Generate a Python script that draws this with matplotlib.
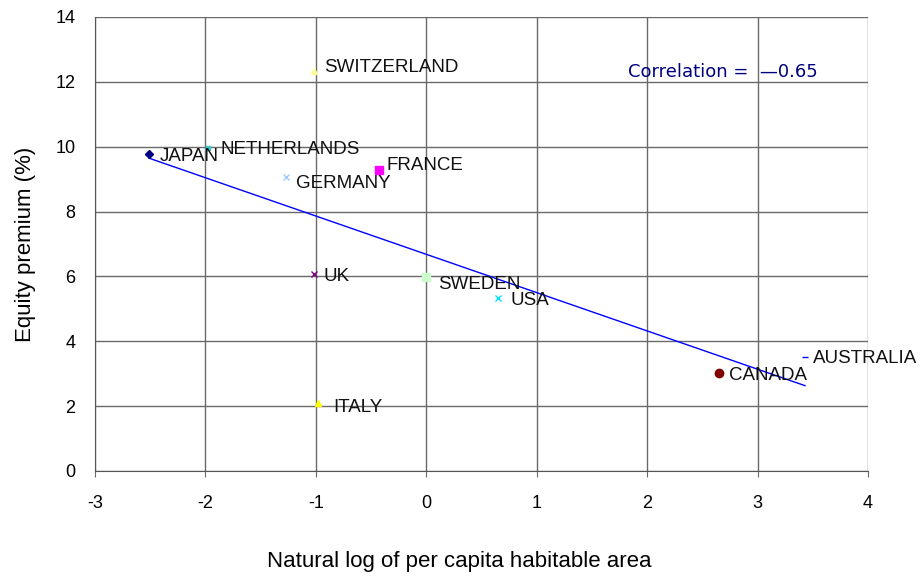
import numpy as np
import matplotlib
matplotlib.use('Agg')
import matplotlib.pyplot as plt

plt.rcParams['font.family'] = ['Liberation Sans', 'DejaVu Sans']
plt.rcParams['axes.unicode_minus'] = False

countries = ['JAPAN', 'NETHERLANDS', 'GERMANY', 'FRANCE', 'SWITZERLAND', 'UK',
             'SWEDEN', 'USA', 'CANADA', 'AUSTRALIA', 'ITALY']
log_area = [-2.51, -1.98, -1.27, -0.43, -1.02, -1.02, 0.0, 0.65, 2.65, 3.43, -0.98]
equity_premium = [9.78, 9.95, 9.07, 9.28, 12.33, 6.07, 5.98, 5.33, 3.02, 3.52, 2.10]
correlation_text = 'Correlation =  \u20140.65'

# marker style per country
markers = ['D', 's', 'x', 's', '^', 'x', 's', 'x', 'o', '_', '^']
colors = ['#000080', '#33CCCC', '#99CCFF', '#FF00FF', '#FFFF99', '#800080',
          '#CCFFCC', '#00E5FF', '#800000', '#0000FF', '#FFFF00']
sizes = [4, 3, 5, 6, 5, 5, 6, 5, 6, 5, 5]
# label offsets in pixels
offsets = [(11, -3), (13, -1), (10, -7), (8, 5), (10, 4), (10, -2),
           (12, -7), (12, -2), (10, -2), (8, -2), (15, -5)]

fig = plt.figure(figsize=(9.22, 5.76), dpi=100)
ax = fig.add_axes([0.103, 0.1823, 0.8384, 0.7882])

for name, x, y, m, c, s, off in zip(countries, log_area, equity_premium,
                                     markers, colors, sizes, offsets):
    ax.plot(x, y, marker=m, color=c, markersize=s, linestyle='none',
            markeredgewidth=1, zorder=3)
    ax.annotate(name, (x, y), xytext=off, textcoords='offset pixels',
                ha='left', va='center', fontsize=13.5, color='#111111', zorder=4)

# fitted trend line
xa = np.array(log_area)
ya = np.array(equity_premium)
slope, intercept = np.polyfit(xa, ya, 1)
xs = np.array([xa.min(), xa.max()])
ax.plot(xs, slope * xs + intercept, color='#0000FF', linewidth=1, zorder=2)

ax.text(1.83, 12.3, correlation_text, color='#000080', fontsize=13,
        family=['DejaVu Sans'], va='center', ha='left')

ax.set_xlim(-3, 4)
ax.set_ylim(0, 14)
ax.set_xticks(range(-3, 5))
ax.set_yticks(range(0, 15, 2))
ax.grid(True, color='#6a6a6a', linewidth=1)
ax.set_axisbelow(True)
for side in ['top', 'right']:
    ax.spines[side].set_visible(False)
for side in ['left', 'bottom']:
    ax.spines[side].set_color('#555555')
ax.tick_params(labelsize=13, direction='out', color='#6a6a6a')
ax.tick_params(axis='x', length=4.3, pad=13)
ax.tick_params(axis='y', length=0, pad=14)

ax.set_xlabel('Natural log of per capita habitable area', fontsize=16, labelpad=28)
ax.set_ylabel('Equity premium (%)', fontsize=16, labelpad=14)
ax.xaxis.label.set_x(0.471)

fig.savefig('out.png', dpi=100)
